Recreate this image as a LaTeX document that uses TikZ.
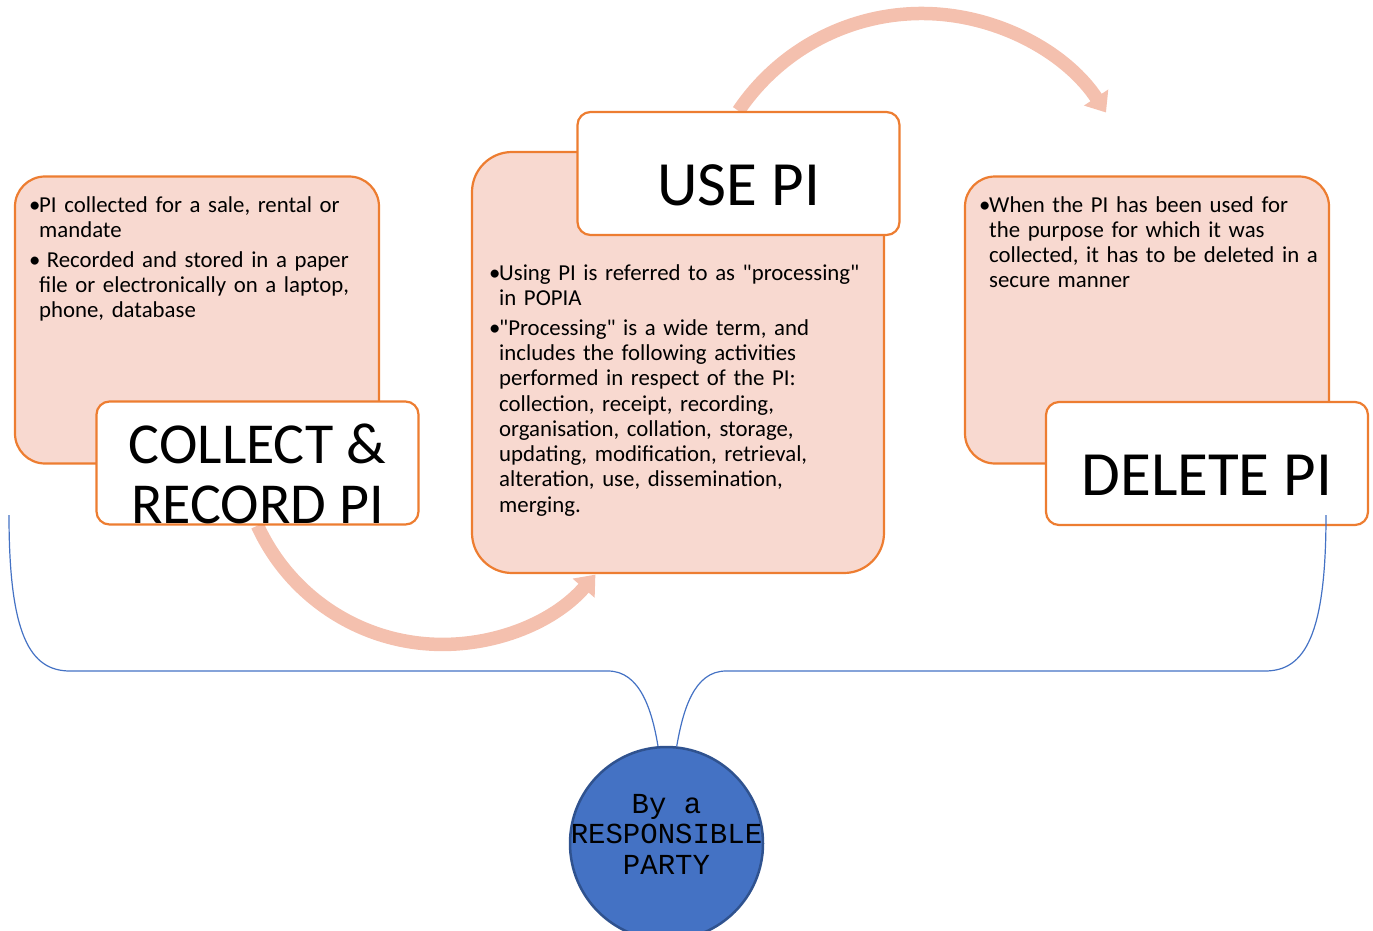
\documentclass[tikz,border=0pt]{standalone}
\usepackage{fontspec}
\setmainfont{Carlito}
\setmonofont{Liberation Mono}
\usetikzlibrary{arrows.meta}
\definecolor{boxorange}{HTML}{ED7D31}
\definecolor{boxpink}{HTML}{F8D9D0}
\definecolor{arcpink}{HTML}{F4C0AE}
\definecolor{partyblue}{HTML}{4472C4}
\definecolor{partyedge}{HTML}{2F528F}
\pgfdeclarelayer{back}
\pgfsetlayers{back,main}
\newcommand{\bitem}[1]{\hangindent=10pt\hangafter=1\noindent\makebox[10pt][l]{\textbullet}#1\par\vspace{4.5pt}}

\begin{document}
\begin{tikzpicture}
                [
                x=1pt, y=1pt,
                infobox/.style={rectangle,rounded corners=30pt,draw=boxorange,fill=boxpink,line width=2.2pt},
                titlebox/.style={rectangle,rounded corners=13pt,draw=boxorange,fill=white,line width=2.2pt,minimum width=322pt,minimum height=123pt},
                bodytext/.style={anchor=base west,inner sep=0pt,text width=380pt,align=left,font=\fontsize{22.8}{25.3}\selectfont},
                titletext/.style={anchor=base,inner sep=0pt,align=center,font=\fontsize{63}{60}\selectfont},
                cyclearc/.style={line width=13.5pt,draw=arcpink,-{Triangle[length=18pt,width=28pt]}},
                brace/.style={draw=partyblue,line width=1.2pt}
                ]
            \useasboundingbox (0,0) rectangle (1373,-931);
            \node[infobox,minimum width=364pt,minimum height=287pt] (collectbg) at (197,-320) {};
            \node[titlebox] (collect) at (257.5,-463) {};
            \node[infobox,rounded corners=40pt,minimum width=412pt,minimum height=421pt] (usebg) at (678,-362.5) {};
            \node[titlebox] (use) at (738.5,-173.5) {};
            \node[infobox,minimum width=364pt,minimum height=287pt] (deletebg) at (1147,-320) {};
            \node[titlebox] (delete) at (1207,-463.5) {};
            \node[titletext,font=\fontsize{58}{60}\selectfont] (collecttitle) at (257.5,-523) {COLLECT \&\\RECORD PI};
            \node[titletext] (usetitle) at (738.5,-205) {USE PI};
            \node[titletext] (deletetitle) at (1207,-495) {DELETE PI};
            \node[bodytext] (collecttext) at (29,-212) {\bitem{PI collected for a sale, rental or\newline mandate}\bitem{\ Recorded and stored in a paper\newline file or electronically on a laptop,\newline phone, database}};
            \node[bodytext] (usetext) at (489,-280) {\bitem{Using PI is referred to as \textquotedbl processing\textquotedbl\newline in POPIA}\bitem{\textquotedbl Processing\textquotedbl{} is a wide term, and\newline includes the following activities\newline performed in respect of the PI:\newline collection, receipt, recording,\newline organisation, collation, storage,\newline updating, modification, retrieval,\newline alteration, use, dissemination,\newline merging.}};
            \node[bodytext] (deletetext) at (979,-212) {\bitem{When the PI has been used for\newline the purpose for which it was\newline collected, it has to be deleted in a\newline secure manner}};
            \node[circle,fill=partyblue,draw=partyedge,line width=2.5pt,minimum size=193pt,inner sep=0pt] (party) at (666.5,-843.5) {};
            \node[align=center,inner sep=0pt,font=\ttfamily\fontsize{29}{30.5}\selectfont] (partytext) at (666.5,-834) {By a\\RESPONSIBLE\\PARTY};
            \coordinate (leftend) at (9,-515);
            \coordinate (rightend) at (1326,-515);
            \draw[brace] (leftend) .. controls (9,-635) and (30,-671) .. (70,-671) -- (608,-671) .. controls (640,-671) and (652,-710) .. (party.95);
            \draw[brace] (rightend) .. controls (1326,-635) and (1305,-671) .. (1265,-671) -- (726,-671) .. controls (694,-671) and (683,-710) .. (party.84);
            \begin{pgfonlayer}{back}
            \draw[cyclearc] (collect.south) arc[start angle=204.5, end angle=319, radius=203];
            \draw[cyclearc] (use.north) arc[start angle=146, end angle=33.5, radius=221];
            \end{pgfonlayer}
            \end{tikzpicture}
\end{document}
